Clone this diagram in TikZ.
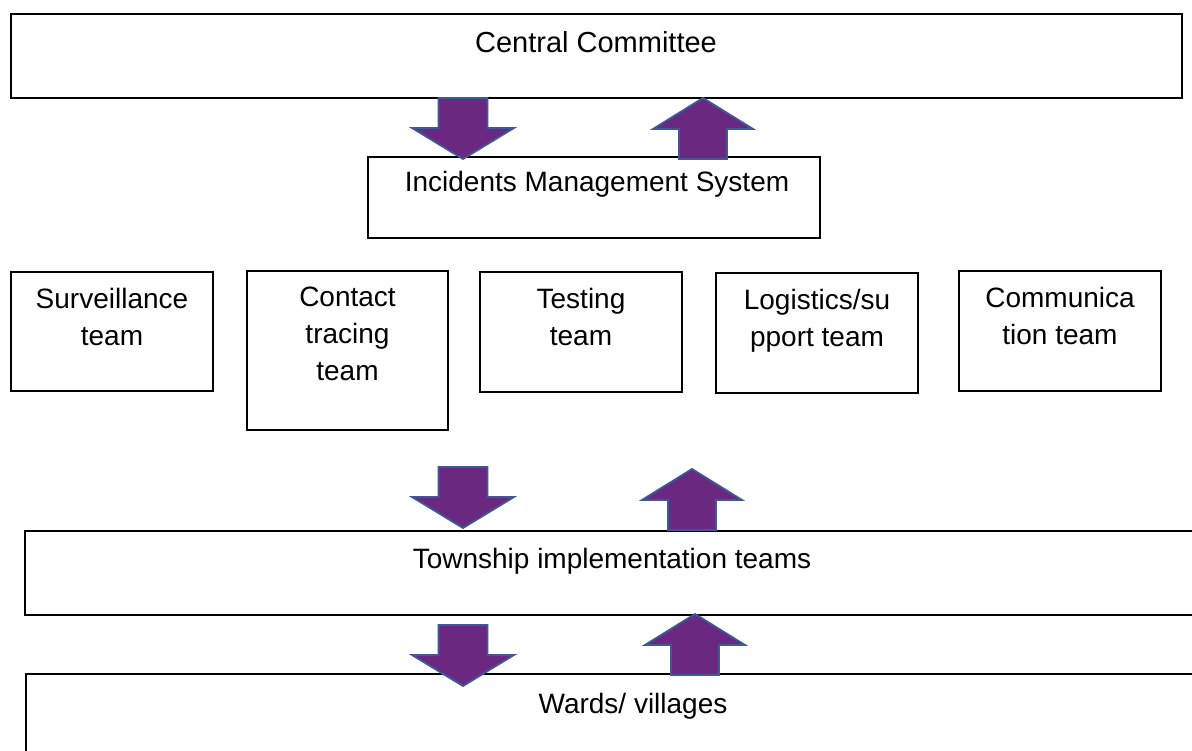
\documentclass[tikz,border=0pt]{standalone}
\usepackage{fontspec}
\setmainfont{Liberation Sans}
\definecolor{arrfill}{RGB}{106,40,128}
\definecolor{arredge}{RGB}{62,90,150}
\tikzset{
  box/.style={draw=black,line width=2pt,inner sep=0pt},
  lbl/.style={font=\fontsize{28}{37}\selectfont,align=center,inner sep=0pt},
  blk/.style={fill=arrfill,draw=arredge,line width=1.8pt,line join=miter},
  downblk/.pic={\path[blk] (-24.5,0) -- (24.5,0) -- (24.5,30) -- (51,30) -- (0,61) -- (-51,30) -- (-24.5,30) -- cycle;},
  upblk/.pic={\path[blk] (0,0) -- (50,31) -- (24,31) -- (24,61) -- (-24,61) -- (-24,31) -- (-50,31) -- cycle;}
}
\begin{document}
\begin{tikzpicture}[x=1pt,y=-1pt]
\clip (0,0) rectangle (1192,751);
\fill[white] (0,0) rectangle (1192,751);
% boxes
\node[box,minimum width=1171pt,minimum height=84pt] (cc) at (596.5,56) {};
\node[box,minimum width=452pt,minimum height=81pt] (ims) at (594,197.5) {};
\node[box,minimum width=202pt,minimum height=119pt] (surv) at (112,331.5) {};
\node[box,minimum width=201pt,minimum height=159pt] (cont) at (347.5,350.5) {};
\node[box,minimum width=202pt,minimum height=120pt] (test) at (581,332) {};
\node[box,minimum width=202pt,minimum height=120pt] (logi) at (817,333) {};
\node[box,minimum width=202pt,minimum height=120pt] (comm) at (1060,331) {};
\node[box,minimum width=1185pt,minimum height=84pt] (town) at (617.5,573) {};
\node[box,minimum width=1184pt,minimum height=106pt] (ward) at (618,727) {};
% labels
\node[lbl,anchor=base,font=\fontsize{29}{37}\selectfont] (cct) at (596,53) {Central Committee};
\node[lbl,anchor=base] (imst) at (597,192) {Incidents Management System};
\node[lbl,anchor=north] (survt) at (112,288) {Surveillance\\team};
\node[lbl,anchor=north] (contt) at (347.5,287) {Contact\\tracing\\team};
\node[lbl,anchor=north] (testt) at (581,288) {Testing\\team};
\node[lbl,anchor=north] (logit) at (817,289) {Logistics/su\\pport team};
\node[lbl,anchor=north] (commt) at (1060,287) {Communica\\tion team};
\node[lbl,anchor=base] (townt) at (612,568) {Township implementation teams};
\node[lbl,anchor=base] (wardt) at (633,713) {Wards/ villages};
% block arrows
\pic at (463,98) {downblk};
\pic at (703,98) {upblk};
\pic at (463,467) {downblk};
\pic at (692,469) {upblk};
\pic at (463,625) {downblk};
\pic at (695,614) {upblk};
\end{tikzpicture}
\end{document}
